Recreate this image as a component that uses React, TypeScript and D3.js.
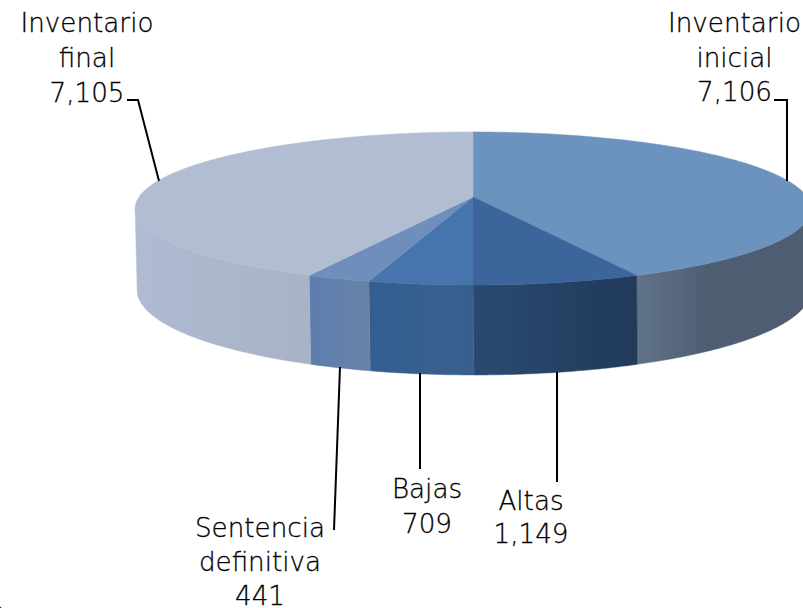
import React from "react";
import * as d3 from "d3";

const categories = ["Inventario inicial", "Altas", "Bajas", "Sentencia definitiva", "Inventario final"];
const values = [7106, 1149, 709, 441, 7105];
const topColors = ["#6C93BD", "#3A659B", "#4574AC", "#6F8EBB", "#B1BDD3"];
const sideColorsFrom = ["#607389", "#2C4A71", "#335F92", "#5C7EAE", "#AEBBD2"];
const sideColorsTo = ["#4F5D72", "#203A5A", "#3A5F8C", "#6A82A8", "#A9B2C6"];

const labelLines = [
  ["Inventario", "inicial", "7,106"],
  ["Altas", "1,149"],
  ["Bajas", "709"],
  ["Sentencia", "definitiva", "441"],
  ["Inventario", "final", "7,105"],
];

// layout
const W = 803, H = 608;
const P = 0.15;
const top = { cx: 473, cy: 197, A: 334, B: 74.8 };
const bot = { cx: 474, cy: 277.3, A: 333, B: 83 };
const VIS0 = (98.6 * Math.PI) / 180, VIS1 = (261.4 * Math.PI) / 180;
const FONT = "'DejaVu Sans', sans-serif";
const FS = 26.2;

const labelPos = [
  { x: 734.5, y: [32, 67, 101] },
  { x: 531, y: [510, 543] },
  { x: 427, y: [498, 533] },
  { x: 260, y: [537, 571, 605] },
  { x: 87, y: [32, 67, 102] },
];
const leaders: [number, number][][] = [
  [[774, 100], [787, 100], [787, 181]],
  [[557, 372], [557, 482]],
  [[420, 373], [420, 469]],
  [[340, 367], [334, 530]],
  [[127, 100], [138, 100], [159, 181]],
];

const project = (p: typeof top, a: number): [number, number] => {
  const X = Math.sin(a), Z = Math.cos(a), w = 1 + P * Z;
  return [p.cx + (p.A * X) / w, p.cy - (p.B * Z) / w];
};
const samples = (a0: number, a1: number) => {
  const n = Math.max(2, Math.ceil(Math.abs(a1 - a0) / 0.01));
  return d3.range(n + 1).map((i) => a0 + ((a1 - a0) * i) / n);
};
const line = d3.line<[number, number]>();
const arcs = d3.pie<number>().sort(null).startAngle(0).endAngle(2 * Math.PI)(values);

export default function App() {
  const sides = arcs.map((d, i) => {
    const a0 = Math.max(d.startAngle, VIS0), a1 = Math.min(d.endAngle, VIS1);
    const pts = [
      ...samples(a0, a1).map((a) => project(top, a)),
      ...samples(a1, a0).map((a) => project(bot, a)),
    ];
    return {
      i,
      path: line(pts as [number, number][]) + "Z",
      x0: project(top, a0)[0],
      x1: project(top, a1)[0],
    };
  });
  return (
    <svg width={W} height={H} viewBox={`0 0 ${W} ${H}`} style={{ position: "absolute", left: 0, top: 0, display: "block", background: "#fff" }}>
      <defs>
        <filter id="soft" x="-5%" y="-5%" width="110%" height="110%">
          <feGaussianBlur stdDeviation="0.45" />
        </filter>
        {sides.map((s) => {
          const lo = Math.min(s.x0, s.x1), hi = Math.max(s.x0, s.x1);
          return (
            <linearGradient key={s.i} id={`side${s.i}`} gradientUnits="userSpaceOnUse" x1={lo} x2={s.i === 0 ? lo + 70 : hi} y1={0} y2={0}>
              <stop offset="0" stopColor={sideColorsFrom[s.i]} />
              <stop offset="1" stopColor={sideColorsTo[s.i]} />
            </linearGradient>
          );
        })}
      </defs>
      <g filter="url(#soft)">
        {sides.map((s) => (
          <path key={s.i} d={s.path} fill={`url(#side${s.i})`} stroke={`url(#side${s.i})`} strokeWidth={0.5} />
        ))}
        {arcs.map((d, i) => {
          const pts: [number, number][] = [[top.cx, top.cy], ...samples(d.startAngle, d.endAngle).map((a) => project(top, a))];
          return <path key={i} d={line(pts) + "Z"} fill={topColors[i]} stroke={topColors[i]} strokeWidth={0.5} />;
        })}
      </g>
      {leaders.map((pts, i) => (
        <path key={i} d={line(pts) ?? ""} fill="none" stroke="#000" strokeWidth={2} />
      ))}
      <g fontFamily={FONT} fontSize={FS} fontWeight={200} fill="#000" stroke="#000" strokeWidth={0.3} textAnchor="middle">
        {labelLines.map((ls, i) =>
          ls.map((t, j) => (
            <text key={`${i}-${j}`} x={labelPos[i].x} y={labelPos[i].y[j]}>{t}</text>
          ))
        )}
        <text x={5} y={621} textAnchor="end">o</text>
      </g>
      <title>{categories.join(", ")}</title>
    </svg>
  );
}
